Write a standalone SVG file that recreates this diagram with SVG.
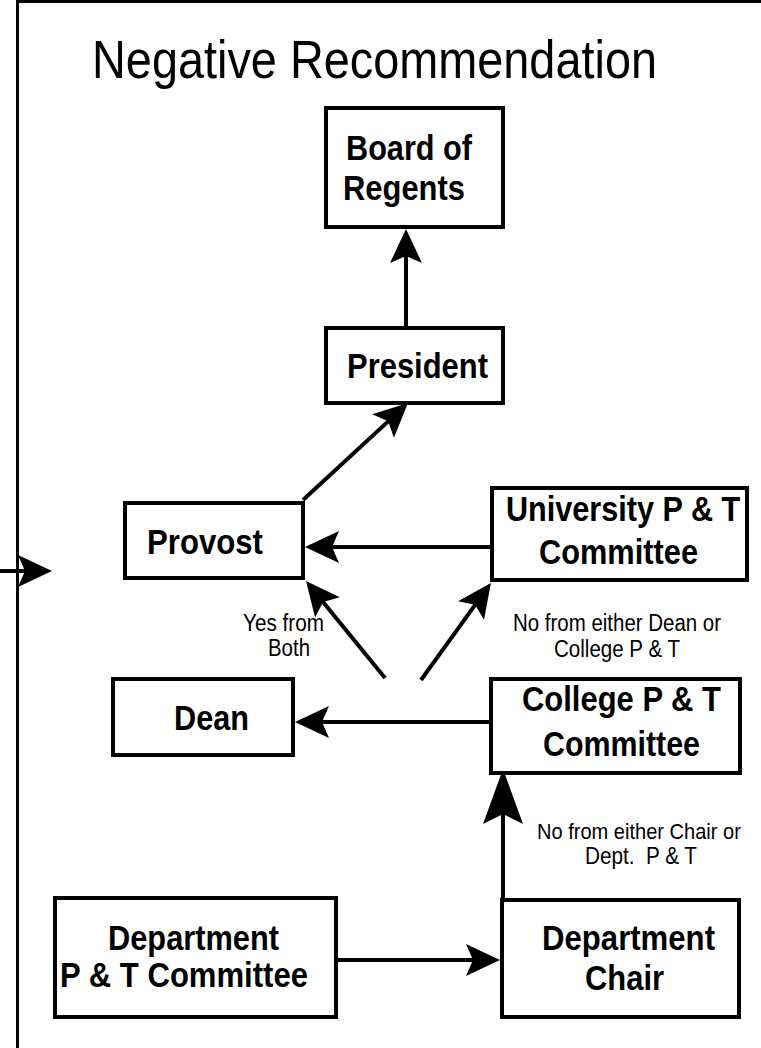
<svg xmlns="http://www.w3.org/2000/svg" width="761" height="1048" viewBox="0 0 761 1048">
<style>
.box{fill:#fff;stroke:#000;stroke-width:4}
.lbl{font-family:"Liberation Sans",Arial,sans-serif;font-weight:bold;font-size:35px;fill:#000}
.sm{font-family:"Liberation Sans",Arial,sans-serif;font-size:23px;fill:#000;white-space:pre}
.ttl{font-family:"Liberation Sans",Arial,sans-serif;font-size:54px;fill:#000}
.con{fill:none;stroke:#000;stroke-width:4}
.frame{fill:none;stroke:#000;stroke-width:3}
</style>
<defs>
<marker id="ah" viewBox="-36 -18 44 36" refX="-6" refY="0" markerWidth="44" markerHeight="36" markerUnits="userSpaceOnUse" orient="auto" overflow="visible">
<path d="M0,0 L-34,-16 L-27,0 L-34,16 Z" fill="#000"/>
</marker>
<marker id="ahL" viewBox="-58 -21 66 42" refX="-6" refY="0" markerWidth="66" markerHeight="42" markerUnits="userSpaceOnUse" orient="auto" overflow="visible">
<path d="M0,0 L-55,-20 L-45,0 L-55,20 Z" fill="#000"/>
</marker>
</defs>
<rect width="761" height="1048" fill="#fff"/>
<g id="frame">
<path class="frame" d="M17.5,1048 V1.5 H761"/>
</g>
<text class="ttl" x="92" y="78" textLength="565" lengthAdjust="spacingAndGlyphs">Negative Recommendation</text>
<g id="connectors">
<path class="con" d="M406,328 V235" marker-end="url(#ah)"/>
<path class="con" d="M303,500 L403.6,407.1" marker-end="url(#ah)"/>
<path class="con" d="M492,547 H311" marker-end="url(#ah)"/>
<path class="con" d="M385,678 L309.8,585.7" marker-end="url(#ah)"/>
<path class="con" d="M421,680 L487.4,587.8" marker-end="url(#ah)"/>
<path class="con" d="M491,722 H301" marker-end="url(#ah)"/>
<path class="con" d="M503,900 V775" marker-end="url(#ahL)"/>
<path class="con" d="M336,960 H494" marker-end="url(#ah)"/>
<path class="con" d="M0,571 H46" marker-end="url(#ah)"/>
</g>
<g id="board">
<rect class="box" x="326" y="108" width="177" height="119"/>
<text class="lbl" x="346" y="160" textLength="126" lengthAdjust="spacingAndGlyphs">Board of</text>
<text class="lbl" x="343" y="200" textLength="122" lengthAdjust="spacingAndGlyphs">Regents</text>
</g>
<g id="president">
<rect class="box" x="326" y="328" width="177" height="75"/>
<text class="lbl" x="347" y="378" textLength="141" lengthAdjust="spacingAndGlyphs">President</text>
</g>
<g id="provost">
<rect class="box" x="125" y="503" width="178" height="75"/>
<text class="lbl" x="147" y="554" textLength="116" lengthAdjust="spacingAndGlyphs">Provost</text>
</g>
<g id="university">
<rect class="box" x="492" y="488" width="255" height="92"/>
<text class="lbl" transform="translate(506,521) scale(0.875,1)">University P &amp; T</text>
<text class="lbl" x="539" y="564" textLength="159" lengthAdjust="spacingAndGlyphs">Committee</text>
</g>
<g id="dean">
<rect class="box" x="113" y="679" width="180" height="76"/>
<text class="lbl" x="174" y="730" textLength="75" lengthAdjust="spacingAndGlyphs">Dean</text>
</g>
<g id="college">
<rect class="box" x="491" y="679" width="249" height="94"/>
<text class="lbl" x="522" y="711" textLength="199" lengthAdjust="spacingAndGlyphs">College P &amp; T</text>
<text class="lbl" x="543" y="756" textLength="157" lengthAdjust="spacingAndGlyphs">Committee</text>
</g>
<g id="deptpt">
<rect class="box" x="55" y="898" width="281" height="119"/>
<text class="lbl" x="108" y="950" textLength="171" lengthAdjust="spacingAndGlyphs">Department</text>
<text class="lbl" x="60" y="987" textLength="248" lengthAdjust="spacingAndGlyphs">P &amp; T Committee</text>
</g>
<g id="chair">
<rect class="box" x="502" y="900" width="237" height="117"/>
<text class="lbl" x="542" y="950" textLength="173" lengthAdjust="spacingAndGlyphs">Department</text>
<text class="lbl" x="585" y="990" textLength="79" lengthAdjust="spacingAndGlyphs">Chair</text>
</g>
<g id="labels">
<text class="sm" x="243" y="631" textLength="81" lengthAdjust="spacingAndGlyphs">Yes from</text>
<text class="sm" x="268" y="656" textLength="42" lengthAdjust="spacingAndGlyphs">Both</text>
<text class="sm" x="513" y="631" textLength="208" lengthAdjust="spacingAndGlyphs">No from either Dean or</text>
<text class="sm" x="554" y="657" textLength="126" lengthAdjust="spacingAndGlyphs">College P &amp; T</text>
<text class="sm" transform="translate(537,839) scale(0.872,1)">No from either Chair or</text>
<text class="sm" x="585" y="864" textLength="112" lengthAdjust="spacingAndGlyphs">Dept.  P &amp; T</text>
</g>
</svg>
